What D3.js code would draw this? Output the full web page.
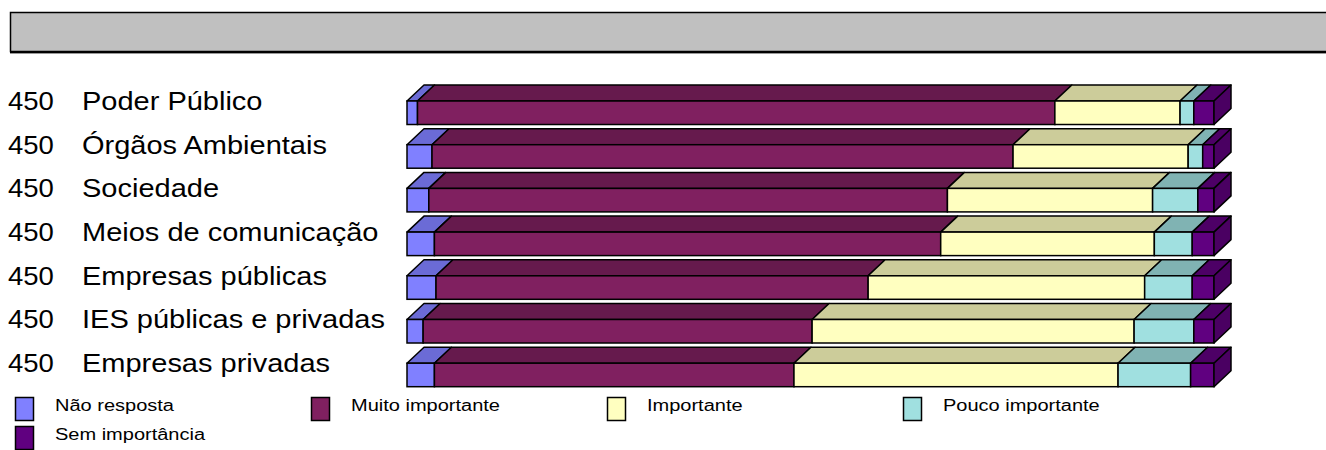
<!DOCTYPE html>
<html>
<head>
<meta charset="utf-8">
<script src="https://cdn.jsdelivr.net/npm/d3@7"></script>
<style>
  html, body { margin: 0; padding: 0; background: #fff; overflow: hidden; }
  svg { display: block; font-family: "Liberation Sans", Arial, sans-serif; }
</style>
</head>
<body>
<svg id="chart" width="1326" height="450"></svg>
<script>
// Respondents per group and group names
const categories = ["Poder Público", "Órgãos Ambientais", "Sociedade", "Meios de comunicação",
                    "Empresas públicas", "IES públicas e privadas", "Empresas privadas"];
const counts = [450, 450, 450, 450, 450, 450, 450];

// Share of answers per group (%)
const naoResposta     = [1.3, 3.1, 2.7, 3.4, 3.6, 2.0, 3.4];
const muitoImportante = [78.9, 72.0, 64.2, 62.8, 53.6, 48.2, 44.6];
const importante      = [15.5, 21.7, 25.4, 26.5, 34.3, 39.9, 40.2];
const poucoImportante = [1.7, 1.8, 5.6, 4.7, 5.9, 7.4, 9.0];
const semImportancia  = [2.5, 1.4, 2.0, 2.7, 2.7, 2.5, 2.9];

const seriesNames = ["Não resposta", "Muito importante", "Importante", "Pouco importante", "Sem importância"];
const seriesValues = [naoResposta, muitoImportante, importante, poucoImportante, semImportancia];

// front / top / side face colours per series
const palette = [
  { front: "#8080ff", top: "#6b6bd6", side: "#5a5ab3" },
  { front: "#802060", top: "#661a4d", side: "#55163f" },
  { front: "#ffffc0", top: "#cccc9a", side: "#b3b386" },
  { front: "#a0e0e0", top: "#80b3b3", side: "#6b9999" },
  { front: "#600080", top: "#4d0066", side: "#4a0062" }
];

const svg = d3.select("#chart");

// empty title box
svg.append("rect")
  .attr("x", 10.5).attr("y", 12.5).attr("width", 1330).attr("height", 39)
  .attr("fill", "#c0c0c0").attr("stroke", "#000").attr("stroke-width", 1.5);
svg.append("line")
  .attr("x1", 10).attr("x2", 1326).attr("y1", 52).attr("y2", 52)
  .attr("stroke", "#000").attr("stroke-width", 2);
svg.append("line")
  .attr("x1", 10).attr("x2", 1326).attr("y1", 53.5).attr("y2", 53.5)
  .attr("stroke", "#999").attr("stroke-width", 1);

// stacked, normalised to 100%
const rows = categories.map((c, i) => {
  const r = { category: c, count: counts[i] };
  seriesNames.forEach((s, j) => { r[s] = seriesValues[j][i]; });
  return r;
});
const stack = d3.stack().keys(seriesNames).offset(d3.stackOffsetExpand);
const layers = stack(rows);

const x = d3.scaleLinear().domain([0, 1]).range([407, 1214]);
const y = d3.scaleBand().domain(categories).range([101, 386.7]).paddingInner(0.462).paddingOuter(0);
const depthX = 17, depthY = 16;
const h = y.bandwidth();

const bars = svg.append("g");
categories.forEach((cat, i) => {
  const g = bars.append("g");
  const y0 = y(cat);
  layers.forEach((layer, j) => {
    const d = layer[i];
    const x0 = x(d[0]), x1 = x(d[1]);
    const col = palette[j];
    // top face
    g.append("path")
      .attr("d", `M${x0},${y0}L${x1},${y0}L${x1 + depthX},${y0 - depthY}L${x0 + depthX},${y0 - depthY}Z`)
      .attr("fill", col.top).attr("stroke", "#000").attr("stroke-width", 1.5).attr("stroke-linejoin", "round");
    // front face
    g.append("rect")
      .attr("x", x0).attr("y", y0).attr("width", x1 - x0).attr("height", h)
      .attr("fill", col.front).attr("stroke", "#000").attr("stroke-width", 1.5);
    // right end face
    if (j === layers.length - 1) {
      g.append("path")
        .attr("d", `M${x1},${y0}L${x1 + depthX},${y0 - depthY}L${x1 + depthX},${y0 + h - depthY}L${x1},${y0 + h}Z`)
        .attr("fill", col.side).attr("stroke", "#000").attr("stroke-width", 1.5).attr("stroke-linejoin", "round");
    }
  });
});

// row labels: count and group name
const labels = svg.append("g").attr("font-size", 25).attr("fill", "#000");
categories.forEach((cat, i) => {
  const by = y(cat) + 9;
  labels.append("text").attr("transform", `translate(8,${by}) scale(1.1,1)`).text(counts[i]);
  labels.append("text").attr("transform", `translate(82,${by}) scale(1.16,1)`).text(cat);
});

// legend
const legend = svg.append("g").attr("font-size", 16);
seriesNames.forEach((s, j) => {
  const col = j % 4, row = Math.floor(j / 4);
  const lx = 15 + col * 296, ly = 397 + row * 29;
  legend.append("rect")
    .attr("x", lx + 0.5).attr("y", ly + 0.5).attr("width", 18).attr("height", 23)
    .attr("fill", palette[j].front).attr("stroke", "#000").attr("stroke-width", 1.5);
  legend.append("text")
    .attr("transform", `translate(${lx + 40},${ly + 14}) scale(1.25,1)`).text(s);
});
</script>
</body>
</html>
